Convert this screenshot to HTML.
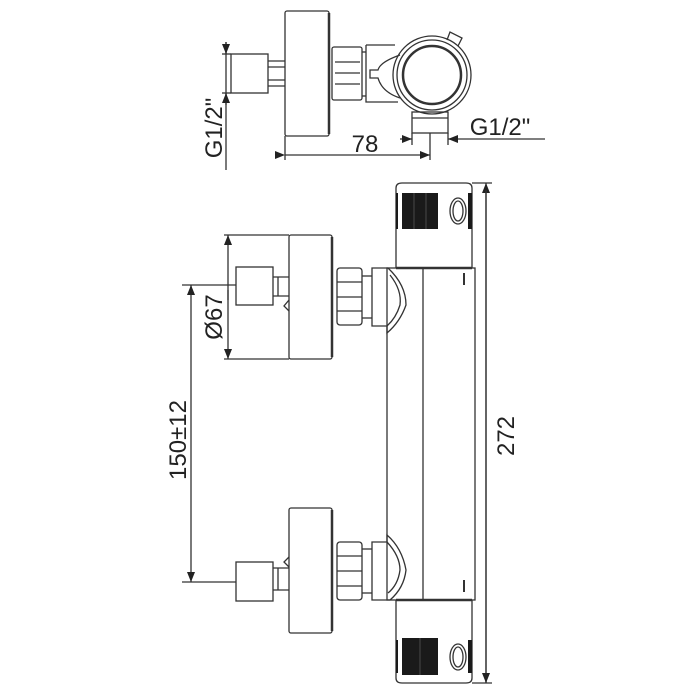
<!DOCTYPE html>
<html><head><style>body{margin:0;background:#fff}svg{display:block}text{font-family:"Liberation Sans",sans-serif;fill:#222}</style></head>
<body>
<svg width="700" height="700" viewBox="0 0 700 700" xmlns="http://www.w3.org/2000/svg">
<defs><marker id="a" markerWidth="10" markerHeight="8" refX="10" refY="4" orient="auto" markerUnits="userSpaceOnUse"><path d="M0,0 L10,4 L0,8z" fill="#222"/></marker></defs>
<g fill="none" stroke="#333" stroke-width="1.3">
<!-- TOP VIEW -->
<rect x="285" y="11" width="44" height="125" rx="2"/>
<line x1="329" y1="13" x2="329" y2="134" stroke-width="2.5"/>
<rect x="231" y="54" width="37" height="39"/>
<line x1="268" y1="61" x2="285" y2="61"/><line x1="268" y1="67" x2="285" y2="67"/>
<line x1="268" y1="80" x2="285" y2="80"/><line x1="268" y1="86" x2="285" y2="86"/>
<rect x="332" y="47" width="30" height="53" rx="2"/>
<line x1="335" y1="73" x2="360" y2="73"/><line x1="335" y1="62" x2="360" y2="62"/><line x1="335" y1="84" x2="360" y2="84"/>
<line x1="362" y1="52" x2="366" y2="52"/><line x1="362" y1="96" x2="366" y2="96"/>
<path d="M366,45 L395,45 M366,45 L366,102 L398,102"/>
<path d="M400,55 Q380,62 378,70 L370,70 L370,78 L378,78 Q382,92 400,98"/>
<circle cx="432" cy="75" r="39"/>
<circle cx="432" cy="75" r="35"/>
<circle cx="432" cy="75" r="29" stroke-width="2.5"/>
<path d="M447,40 L450,32 L462,38 L458,46"/>
<rect x="412" y="112" width="36" height="21"/>
<line x1="412" y1="118" x2="448" y2="118"/>
<line x1="226" y1="42" x2="226" y2="170"/>
<line x1="222" y1="54" x2="231" y2="54"/><line x1="222" y1="93" x2="231" y2="93"/>
<line x1="226" y1="42" x2="226" y2="54" marker-end="url(#a)"/>
<line x1="226" y1="105" x2="226" y2="93" marker-end="url(#a)"/>
<line x1="285" y1="136" x2="285" y2="160"/><line x1="430" y1="133" x2="430" y2="160"/>
<line x1="285" y1="155" x2="430" y2="155" marker-start="url(#a)" marker-end="url(#a)"/>
<line x1="412" y1="133" x2="412" y2="145"/><line x1="448" y1="133" x2="448" y2="145"/>
<line x1="400" y1="139" x2="412" y2="139" marker-end="url(#a)"/>
<line x1="545" y1="139" x2="448" y2="139" marker-end="url(#a)"/>
<!-- MAIN BODY -->
<rect x="387" y="268" width="88" height="332"/>
<line x1="423" y1="268" x2="423" y2="600"/>
<line x1="464" y1="273" x2="464" y2="285" stroke-width="2"/>
<line x1="464" y1="580" x2="464" y2="592" stroke-width="2"/>
<path d="M396,268 L396,188 Q396,183 402,183 L466,183 Q472,183 472,188 L472,268"/>
<line x1="396" y1="268" x2="472" y2="268" stroke-width="2.5"/>
<path d="M396,600 L396,678 Q396,683 402,683 L466,683 Q472,683 472,678 L472,600"/>
<line x1="396" y1="600" x2="472" y2="600" stroke-width="2.5"/>
<ellipse cx="458" cy="211" rx="8" ry="13"/><ellipse cx="458" cy="211" rx="5" ry="10"/>
<ellipse cx="458" cy="657" rx="8" ry="13"/><ellipse cx="458" cy="657" rx="5" ry="10"/>
<!-- upper inlet -->
<rect x="289" y="235" width="43" height="124" rx="2"/>
<line x1="332" y1="237" x2="332" y2="357" stroke-width="2.5"/>
<rect x="337" y="268" width="25" height="57" rx="3"/>
<line x1="337" y1="282" x2="362" y2="282"/><line x1="337" y1="297" x2="362" y2="297"/><line x1="337" y1="311" x2="362" y2="311"/>
<line x1="362" y1="276" x2="372" y2="276"/><line x1="362" y1="318" x2="372" y2="318"/>
<path d="M372,268 L388,268 Q406,285 406,305 Q400,322 387,333 L387,326 L372,326 Z"/>
<path d="M390,275 Q402,290 400,305 Q396,318 387,326"/>
<rect x="236" y="267" width="37" height="38"/>
<path d="M273,277 L289,277 M273,296 L289,296 M278,277 L278,296 M289,300 L284,306 L289,311"/>
<!-- lower inlet -->
<rect x="289" y="508" width="43" height="125" rx="2"/>
<line x1="332" y1="510" x2="332" y2="631" stroke-width="2.5"/>
<rect x="337" y="542" width="25" height="58" rx="3"/>
<line x1="337" y1="556" x2="362" y2="556"/><line x1="337" y1="571" x2="362" y2="571"/><line x1="337" y1="586" x2="362" y2="586"/>
<line x1="362" y1="549" x2="372" y2="549"/><line x1="362" y1="593" x2="372" y2="593"/>
<path d="M372,542 L387,542 L387,535 Q402,548 406,570 Q404,588 390,600 L372,600 Z"/>
<path d="M387,542 Q400,556 400,570 Q398,585 388,593"/>
<rect x="236" y="562" width="37" height="39"/>
<path d="M273,568 L289,568 M273,590 L289,590 M278,568 L278,590 M289,557 L284,562 L289,567"/>
<!-- dims -->
<line x1="224" y1="235" x2="289" y2="235"/><line x1="224" y1="359" x2="289" y2="359"/>
<line x1="228" y1="300" x2="228" y2="235" marker-end="url(#a)"/>
<line x1="228" y1="290" x2="228" y2="359" marker-end="url(#a)"/>
<line x1="182" y1="285" x2="236" y2="285"/><line x1="182" y1="582" x2="236" y2="582"/>
<line x1="191" y1="300" x2="191" y2="285" marker-end="url(#a)"/>
<line x1="191" y1="560" x2="191" y2="582" marker-end="url(#a)"/>
<line x1="191" y1="300" x2="191" y2="560"/>
<line x1="472" y1="183" x2="492" y2="183"/><line x1="472" y1="683" x2="492" y2="683"/>
<line x1="486" y1="683" x2="486" y2="183" marker-end="url(#a)"/>
<line x1="486" y1="190" x2="486" y2="683" marker-end="url(#a)"/>
</g>
<g fill="#1a1a1a">
<rect x="402" y="193" width="36" height="36"/>
<rect x="468" y="193" width="4" height="36"/><rect x="396" y="193" width="2" height="36"/>
<rect x="402" y="638" width="36" height="37"/>
<rect x="468" y="640" width="4" height="33"/><rect x="396" y="640" width="2" height="33"/>
</g>
<g stroke="#555" stroke-width="0.8"><line x1="414" y1="193" x2="414" y2="229"/><line x1="426" y1="193" x2="426" y2="229"/><line x1="420" y1="638" x2="420" y2="675"/></g>
<g font-size="24">
<text x="365" y="152" text-anchor="middle">78</text>
<text x="500" y="135" text-anchor="middle">G1/2"</text>
<text transform="translate(222,128) rotate(-90)" text-anchor="middle">G1/2"</text>
<text transform="translate(222,317) rotate(-90)" text-anchor="middle">Ø67</text>
<text transform="translate(186,440) rotate(-90)" text-anchor="middle">150±12</text>
<text transform="translate(514,436) rotate(-90)" text-anchor="middle">272</text>
</g>
</svg>
</body></html>
